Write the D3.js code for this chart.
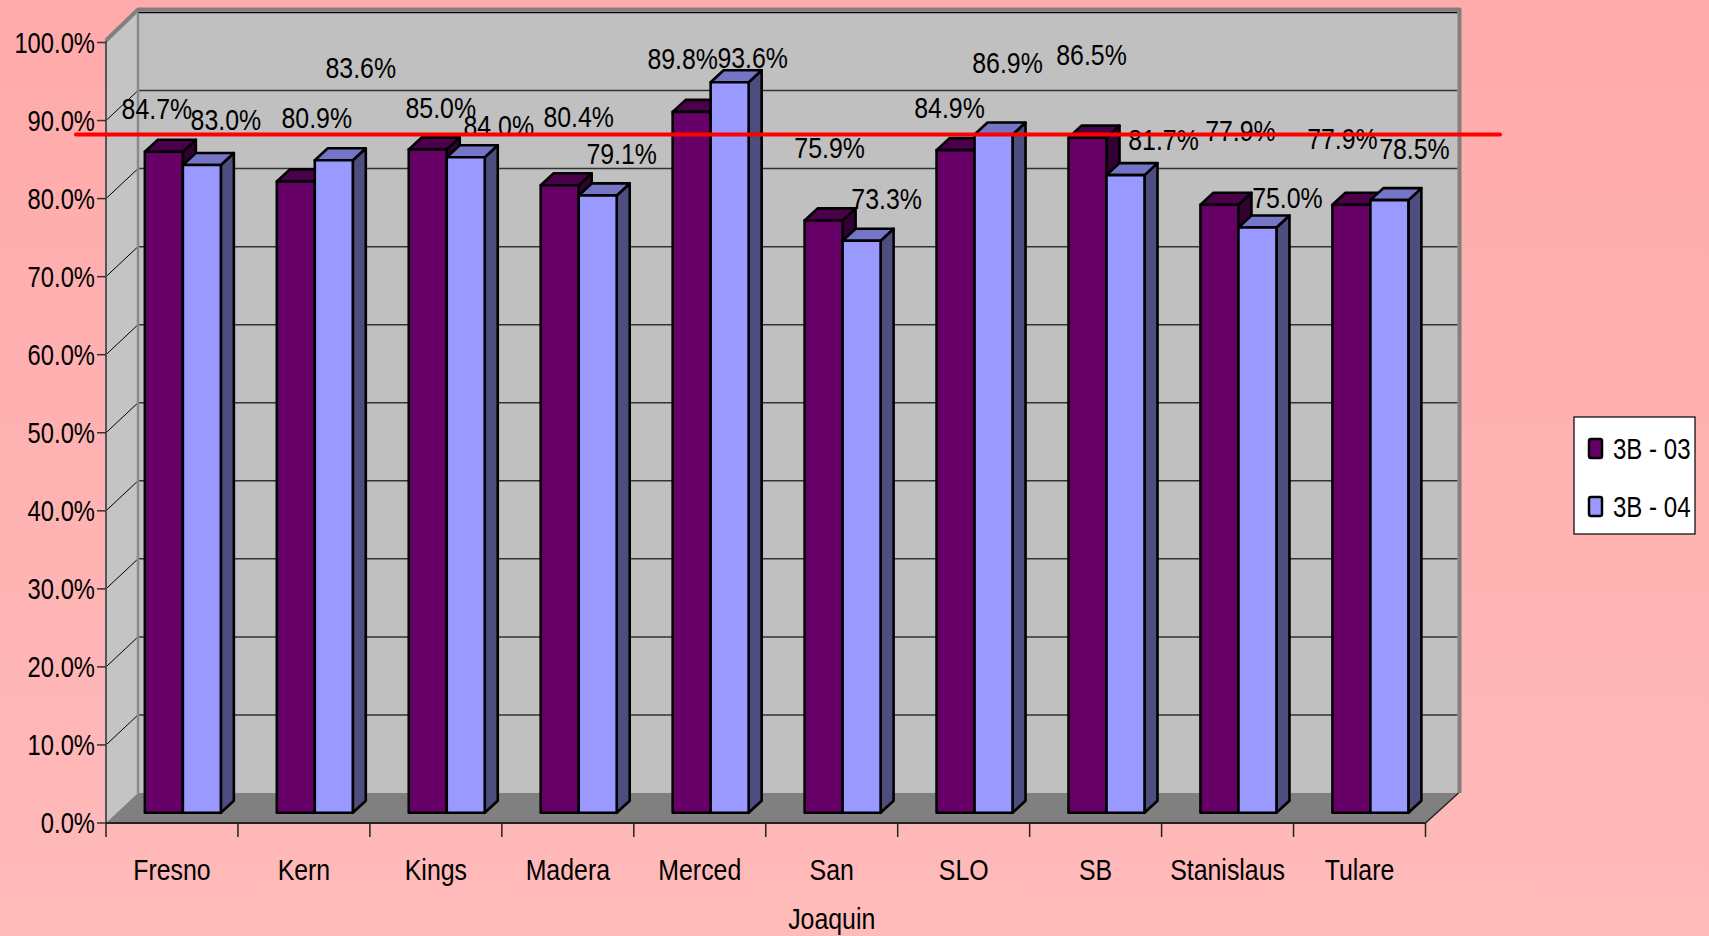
<!doctype html>
<html lang="en">
  <head>
    <meta charset="utf-8"/>
    <title>3B - 03 / 3B - 04 by County</title>
    <script src="https://d3js.org/d3.v7.min.js"></script>
    <style>
      body { margin: 0; }
      text { font-family: "Liberation Sans", Arial, sans-serif; fill: #000; }
    </style>
  </head>
  <body>
    <div id="chart"></div>
    <script>
      // data
      var counties = ["Fresno", "Kern", "Kings", "Madera", "Merced", "San Joaquin", "SLO", "SB", "Stanislaus", "Tulare"];
      var values03 = [84.7, 80.9, 85.0, 80.4, 89.8, 75.9, 84.9, 86.5, 77.9, 77.9];
      var values04 = [83.0, 83.6, 84.0, 79.1, 93.6, 73.3, 86.9, 81.7, 75.0, 78.5];
      var seriesNames = ["3B - 03", "3B - 04"];
      var yTicks = [0, 10, 20, 30, 40, 50, 60, 70, 80, 90, 100];
      var target = 88.2;

      // where excel dropped the value labels (offset from top of bar)
      var labelDx03 = [-7, 21, 13, 19, -9, 6, -6, 4, 21, -9];
      var labelDy03 = [-44, -64, -42, -69, -54, -73, -43, -83, -75, -67];
      var labelDx04 = [24, 27, 33, 24, 23, 25, 14, 38, 30, 25];
      var labelDy04 = [-46, -93, -32, -42, -25, -43, -72, -36, -30, -52];

      var w = 1709;
      var h = 936;
      var left = 106, right = 1425.5;
      var depthX = 32, depthY = 30;     // wall depth
      var barPlane = 0.34;              // bars sit this far back
      var barW = 38, barDX = 13, barDY = 12;
      // no Arial Narrow here, so squeeze it
      var narrow = "scale(0.83,1)";
      var narrowY = "scale(0.82,1)";

      var colors = { front: ["#660066", "#9999ff"], top: ["#4a004a", "#7575c8"], side: ["#330033", "#4d4d80"] };

      var xScale = d3.scaleBand()
        .domain(counties)
        .range([left, right])
        .paddingInner(0)
        .paddingOuter(0);

      var yScale = d3.scaleLinear()
        .domain([0, 100])
        .range([823, 42.5]);

      var svg = d3.select("#chart")
        .append("svg")
        .attr("width", w)
        .attr("height", h);

      //Background
      var grad = svg.append("defs").append("linearGradient")
        .attr("id", "bg").attr("x1", 0).attr("y1", 0).attr("x2", 0).attr("y2", 1);
      grad.append("stop").attr("offset", 0).attr("stop-color", "#ffaaaa");
      grad.append("stop").attr("offset", 1).attr("stop-color", "#ffbaba");
      svg.append("rect").attr("width", w).attr("height", h).attr("fill", "url(#bg)");

      var y0 = yScale(0), y100 = yScale(100);
      var backL = left + depthX, backR = right + depthX;

      //Walls and floor
      svg.append("polygon")
        .attr("points", [[left, y100], [backL, y100 - depthY], [backL, y0 - depthY], [left, y0]].join(" "))
        .attr("fill", "#c4c4c4");
      svg.append("rect")
        .attr("x", backL).attr("y", y100 - depthY)
        .attr("width", backR - backL).attr("height", y0 - y100)
        .attr("fill", "#c0c0c0");
      svg.append("polygon")
        .attr("points", [[left, y0], [backL, y0 - depthY], [backR, y0 - depthY], [right, y0]].join(" "))
        .attr("fill", "#808080");

      //Gridlines
      svg.selectAll(".grid")
        .data(yTicks.filter(function(d) { return d > 0; }))
        .enter()
        .append("line")
        .attr("x1", backL).attr("x2", backR)
        .attr("y1", function(d) { return yScale(d) - depthY; })
        .attr("y2", function(d) { return yScale(d) - depthY; })
        .attr("stroke", function(d) { return d == 100 ? "#000" : "#333"; })
        .attr("stroke-width", 1.5);
      svg.selectAll(".sidegrid")
        .data(yTicks.filter(function(d) { return d > 0 && d < 100; }))
        .enter()
        .append("line")
        .attr("x1", left).attr("x2", backL)
        .attr("y1", function(d) { return yScale(d); })
        .attr("y2", function(d) { return yScale(d) - depthY; })
        .attr("stroke", "#000")
        .attr("stroke-width", 1);

      //Wall border
      svg.append("polyline")
        .attr("points", [[left, y100 - 2], [backL, y100 - depthY - 3], [backR + 2, y100 - depthY - 3], [backR + 2, y0 - depthY]].join(" "))
        .attr("fill", "none")
        .attr("stroke", "#808080")
        .attr("stroke-width", 4)
        .attr("stroke-linejoin", "round");
      svg.append("line")
        .attr("x1", backL).attr("x2", backL)
        .attr("y1", y100 - depthY).attr("y2", y0 - depthY)
        .attr("stroke", "#8a8a8a").attr("stroke-width", 2.5);

      //Y axis
      svg.append("line")
        .attr("x1", left).attr("x2", left)
        .attr("y1", y100 - 2).attr("y2", y0)
        .attr("stroke", "#555").attr("stroke-width", 2);
      svg.selectAll(".ytick")
        .data(yTicks)
        .enter()
        .append("line")
        .attr("x1", left - 9).attr("x2", left)
        .attr("y1", function(d) { return yScale(d); })
        .attr("y2", function(d) { return yScale(d); })
        .attr("stroke", "#333").attr("stroke-width", 1.5);
      svg.selectAll(".ylabel")
        .data(yTicks)
        .enter()
        .append("text")
        .attr("transform", function(d) { return "translate(" + (left - 11) + "," + yScale(d) + ") " + narrowY; })
        .attr("dy", "0.36em")
        .attr("text-anchor", "end")
        .attr("font-size", "29px")
        .text(function(d) { return d.toFixed(1) + "%"; });

      //X axis
      svg.append("line")
        .attr("x1", left).attr("x2", right)
        .attr("y1", y0).attr("y2", y0)
        .attr("stroke", "#222").attr("stroke-width", 2);
      svg.append("line")
        .attr("x1", right).attr("x2", backR + 1)
        .attr("y1", y0).attr("y2", y0 - depthY)
        .attr("stroke", "#222").attr("stroke-width", 1.5);
      var edges = counties.map(function(c) { return xScale(c); }).concat([right]);
      svg.selectAll(".xtick")
        .data(edges)
        .enter()
        .append("line")
        .attr("x1", function(d) { return d; }).attr("x2", function(d) { return d; })
        .attr("y1", y0).attr("y2", y0 + 14)
        .attr("stroke", "#222").attr("stroke-width", 1.5);
      var xl = svg.selectAll(".xlabel")
        .data(counties)
        .enter()
        .append("text")
        .attr("transform", function(d) { return "translate(" + (xScale(d) + xScale.bandwidth() / 2) + ",880) " + narrow; })
        .attr("text-anchor", "middle")
        .attr("font-size", "30px");
      xl.selectAll("tspan")
        .data(function(d) { return d.split(" "); })
        .enter()
        .append("tspan")
        .attr("x", 0)
        .attr("y", function(d, i) { return i * 49; })
        .text(function(d) { return d; });

      //Bars
      var dShift = barPlane * depthX, dLift = barPlane * depthY;
      var bars = [];
      counties.forEach(function(c, i) {
        var mid = xScale(c) + xScale.bandwidth() / 2 + dShift;
        bars.push({ s: 0, i: i, x0: mid - barW, v: values03[i] });
        bars.push({ s: 1, i: i, x0: mid, v: values04[i] });
      });
      function barPts(d) {
        var x0 = d.x0, x1 = d.x0 + barW;
        var yt = yScale(d.v) - dLift, yb = y0 - dLift;
        return {
          front: [[x0, yt], [x1, yt], [x1, yb], [x0, yb]],
          top: [[x0, yt], [x0 + barDX, yt - barDY], [x1 + barDX, yt - barDY], [x1, yt]],
          side: [[x1, yt], [x1 + barDX, yt - barDY], [x1 + barDX, yb - barDY], [x1, yb]]
        };
      }
      var g = svg.selectAll(".bar")
        .data(bars)
        .enter()
        .append("g");
      ["side", "top", "front"].forEach(function(face) {
        g.append("polygon")
          .attr("points", function(d) { return barPts(d)[face].join(" "); })
          .attr("fill", function(d) { return colors[face][d.s]; })
          .attr("stroke", "#000")
          .attr("stroke-width", 2.6)
          .attr("stroke-linejoin", "round");
      });

      //Value labels
      svg.selectAll(".val")
        .data(bars)
        .enter()
        .append("text")
        .attr("transform", function(d) {
          var x = d.x0 + barW / 2 + (d.s == 0 ? labelDx03[d.i] : labelDx04[d.i]);
          var y = yScale(d.v) - dLift + (d.s == 0 ? labelDy03[d.i] : labelDy04[d.i]);
          return "translate(" + x + "," + y + ") " + narrow;
        })
        .attr("dy", "0.36em")
        .attr("text-anchor", "middle")
        .attr("font-size", "30px")
        .text(function(d) { return d.v.toFixed(1) + "%"; });

      //Legend
      var legend = svg.append("g").attr("transform", "translate(1574,417)");
      legend.append("rect")
        .attr("width", 121).attr("height", 117)
        .attr("fill", "#fff")
        .attr("stroke", "#000").attr("stroke-width", 1.2);
      var item = legend.selectAll(".item")
        .data(seriesNames)
        .enter()
        .append("g")
        .attr("transform", function(d, i) { return "translate(0," + (32 + i * 58) + ")"; });
      item.append("rect")
        .attr("x", 15).attr("y", -10)
        .attr("width", 13).attr("height", 19)
        .attr("rx", 2)
        .attr("fill", function(d, i) { return colors.front[i]; })
        .attr("stroke", "#000").attr("stroke-width", 2.5);
      item.append("text")
        .attr("transform", "translate(39,0) " + narrow)
        .attr("dy", "0.36em")
        .attr("font-size", "29px")
        .text(function(d) { return d; });

      //Target line
      svg.append("line")
        .attr("x1", 76).attr("x2", 1500)
        .attr("y1", yScale(target)).attr("y2", yScale(target))
        .attr("stroke", "#ff0000")
        .attr("stroke-width", 4)
        .attr("stroke-linecap", "round");
    </script>
  </body>
</html>
